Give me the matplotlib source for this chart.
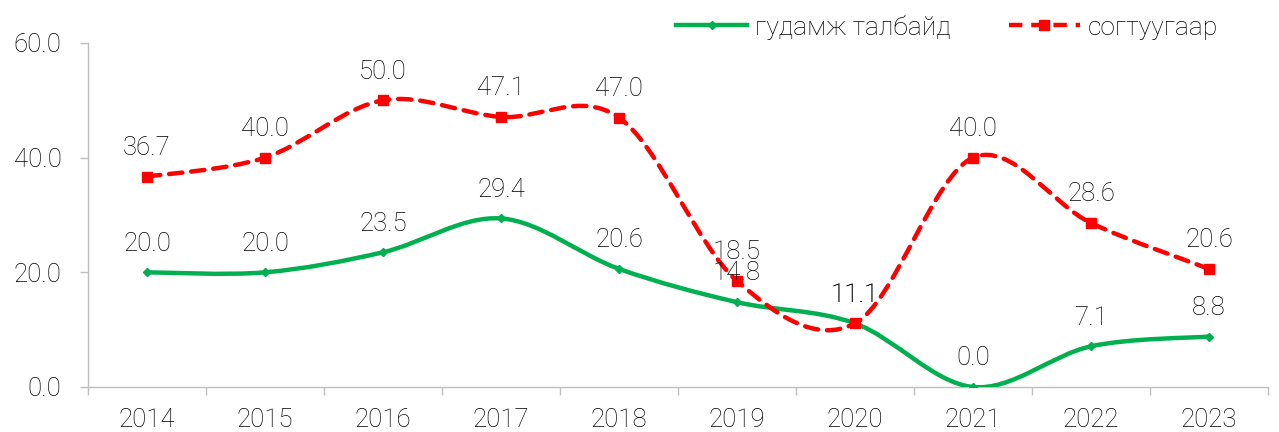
import numpy as np
import matplotlib
matplotlib.use("Agg")
import matplotlib.pyplot as plt
from matplotlib.path import Path
from matplotlib.patches import PathPatch
from matplotlib.lines import Line2D

years = ["2014", "2015", "2016", "2017", "2018", "2019", "2020", "2021", "2022", "2023"]
street = [20.0, 20.0, 23.5, 29.4, 20.6, 14.8, 11.1, 0.0, 7.1, 8.8]
drunk = [36.7, 40.0, 50.0, 47.1, 47.0, 18.5, 11.1, 40.0, 28.6, 20.6]
y_ticks = [0, 20, 40, 60]

GREEN = "#00B050"
RED = "#FF0000"
TXT = "#000000"
FS = 18.5

plt.rcParams["font.family"] = ["Roboto", "DejaVu Sans"]
plt.rcParams["font.weight"] = "light"


def smooth_path(xs, ys):
    # Catmull-Rom style bezier, similar to Excel's smoothed line
    p = np.column_stack([xs, ys]).astype(float)
    pp = np.vstack([p[0], p, p[-1]])
    verts = [p[0]]
    codes = [Path.MOVETO]
    for i in range(len(p) - 1):
        p0, p1, p2, p3 = pp[i], pp[i + 1], pp[i + 2], pp[i + 3]
        c1 = p1 + (p2 - p0) / 6
        c2 = p2 - (p3 - p1) / 6
        verts += [c1, c2, p2]
        codes += [Path.CURVE4] * 3
    return Path(verts, codes)


fig = plt.figure(figsize=(12.79, 4.32), dpi=100)
ax = fig.add_axes([88 / 1279, 1 - 387 / 432, 1180 / 1279, 344 / 432])
x = np.arange(len(years))

for vals, col, ls, mk, ms in [(street, GREEN, "-", "D", 4),
                              (drunk, RED, (0, (3, 2)), "s", 7)]:
    ax.add_patch(PathPatch(smooth_path(x, vals), fill=False, edgecolor=col,
                           lw=3.2, linestyle=ls, capstyle="round", zorder=3))
    ax.plot(x, vals, ls="none", marker=mk, ms=ms, color=col, zorder=4)
    for xi, v in zip(x, vals):
        ax.annotate(f"{v:.1f}", (xi, v), xytext=(0, 12), textcoords="offset points",
                    ha="center", va="bottom", fontsize=FS, color=TXT, zorder=5)

ax.set_xlim(-0.5, len(years) - 0.5)
ax.set_ylim(0, 60)
ax.set_yticks(y_ticks)
ax.set_yticklabels([f"{t:.1f}" for t in y_ticks])
ax.set_xticks(x)
ax.set_xticklabels(years)
ax.set_xticks(np.arange(-0.5, len(years)), minor=True)
ax.tick_params(axis="x", which="major", length=0, pad=15, labelsize=FS, labelcolor=TXT)
ax.tick_params(axis="x", which="minor", length=6, color="#BFBFBF", width=1)
ax.tick_params(axis="y", length=6, color="#BFBFBF", width=1, pad=13,
               labelsize=FS, labelcolor=TXT)
for s in ["top", "right"]:
    ax.spines[s].set_visible(False)
for s in ["left", "bottom"]:
    ax.spines[s].set_color("#BFBFBF")
    ax.spines[s].set_linewidth(1)

handles = [Line2D([], [], color=GREEN, lw=3.2, marker="D", ms=4),
           Line2D([], [], color=RED, lw=3.2, ls=(0, (3, 2)), marker="s", ms=7)]
fig.legend(handles, ["гудамж талбайд", "согтуугаар"], loc="center left",
           bbox_to_anchor=(676 / 1279, 1 - 27 / 432), ncol=2, frameon=False,
           fontsize=19, handlelength=2.7, columnspacing=2.2, handletextpad=0.3,
           labelcolor=TXT, borderaxespad=0, borderpad=0)

fig.savefig("out.png", dpi=100)
